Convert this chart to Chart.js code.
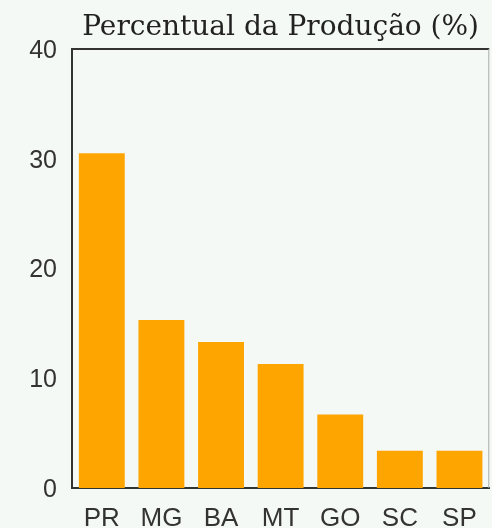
<!DOCTYPE html>
<html>
<head>
<meta charset="utf-8">
<script src="https://cdn.jsdelivr.net/npm/chart.js@4.4.1/dist/chart.umd.min.js"></script>
<style>
  html, body { margin: 0; padding: 0; background: #f5f9f5; }
  #wrap { width: 492px; height: 528px; }
</style>
</head>
<body>
<div id="wrap"><canvas id="c" width="492" height="528"></canvas></div>
<script>
// Percentual da produção por estado
const estados = ['PR', 'MG', 'BA', 'MT', 'GO', 'SC', 'SP'];
const percentuais = [30.5, 15.3, 13.3, 11.3, 6.7, 3.4, 3.4];
const yTicks = [0, 10, 20, 30, 40];
const titulo = 'Percentual da Produção (%)';

// Moldura superior e direita da área do gráfico
const moldura = {
  id: 'moldura',
  afterDatasetsDraw(chart) {
    const a = chart.chartArea;
    const ctx = chart.ctx;
    ctx.save();
    ctx.strokeStyle = '#333';
    ctx.lineWidth = 2;
    ctx.beginPath();
    ctx.moveTo(a.left, a.top);
    ctx.lineTo(a.right, a.top);
    ctx.stroke();
    ctx.strokeStyle = '#aaa';
    ctx.lineWidth = 1;
    ctx.beginPath();
    ctx.moveTo(a.right - 0.5, a.top);
    ctx.lineTo(a.right - 0.5, a.bottom);
    ctx.stroke();
    ctx.restore();
  }
};

new Chart(document.getElementById('c'), {
  type: 'bar',
  data: {
    labels: estados,
    datasets: [{
      data: percentuais,
      backgroundColor: '#ffa500',
      borderWidth: 0,
      barPercentage: 0.77,
      categoryPercentage: 1.0
    }]
  },
  options: {
    responsive: false,
    animation: false,
    layout: { padding: { left: 0, right: 1, top: 0, bottom: 0 } },
    plugins: {
      legend: { display: false },
      tooltip: { enabled: false },
      title: {
        display: true,
        text: titulo,
        fullSize: false,
        color: '#222',
        font: { family: 'DejaVu Serif', size: 28, weight: 'normal' },
        padding: { top: 11, bottom: 4.4 }
      }
    },
    scales: {
      x: {
        grid: { display: false, drawTicks: false },
        border: { display: true, color: '#333', width: 2 },
        ticks: {
          color: '#333',
          padding: 15,
          maxRotation: 0,
          font: { family: 'Liberation Sans', size: 26 }
        },
        afterFit(axis) { axis.height = 40; }
      },
      y: {
        min: 0,
        max: 40,
        afterBuildTicks(axis) { axis.ticks = yTicks.map(v => ({ value: v })); },
        grid: { display: false, drawTicks: false },
        border: { display: true, color: '#333', width: 2 },
        ticks: {
          color: '#333',
          padding: 15,
          labelOffset: 2,
          font: { family: 'Liberation Sans', size: 25 }
        },
        afterFit(axis) { axis.width = 72; }
      }
    }
  },
  plugins: [moldura]
});
</script>
</body>
</html>
